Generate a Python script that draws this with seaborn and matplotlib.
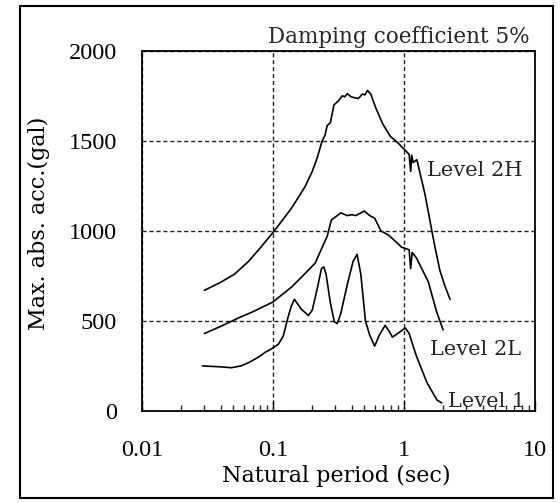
import matplotlib
matplotlib.use("Agg")
import matplotlib.pyplot as plt
import matplotlib.patches as mpatches
from matplotlib.ticker import LogLocator, NullFormatter
import seaborn as sns

# Response spectra (period in sec, acc. in gal)
period_2h = [0.030, 0.040, 0.051, 0.065, 0.080, 0.100, 0.120, 0.140, 0.176, 0.200,
             0.218, 0.238, 0.250, 0.260, 0.275, 0.293, 0.315, 0.339, 0.355, 0.371,
             0.395, 0.417, 0.450, 0.483, 0.505, 0.528, 0.560, 0.610, 0.690, 0.790,
             0.900, 0.970, 1.050, 1.100, 1.130, 1.150, 1.180, 1.260, 1.450, 1.730,
             1.890, 2.050, 2.260]
acc_2h = [670, 715, 760, 830, 905, 990, 1065, 1130, 1245, 1330,
          1405, 1500, 1530, 1585, 1600, 1700, 1720, 1750, 1745, 1762,
          1745, 1740, 1735, 1760, 1755, 1780, 1760, 1685, 1595, 1525,
          1490, 1465, 1440, 1425, 1330, 1420, 1380, 1395, 1207, 912,
          780, 700, 620]

period_2l = [0.030, 0.040, 0.054, 0.070, 0.085, 0.100, 0.140, 0.180, 0.210, 0.260,
             0.280, 0.330, 0.370, 0.400, 0.430, 0.470, 0.500, 0.550, 0.600, 0.670,
             0.770, 0.900, 0.960, 1.050, 1.100, 1.130, 1.160, 1.250, 1.540, 1.780,
             2.000]
acc_2l = [430, 470, 515, 550, 580, 605, 690, 770, 820, 970,
          1060, 1100, 1085, 1090, 1085, 1100, 1110, 1085, 1070, 1000,
          975, 930, 910, 900, 895, 790, 880, 850, 718, 553,
          450]

period_1 = [0.029, 0.040, 0.048, 0.057, 0.066, 0.078, 0.087, 0.095, 0.100, 0.110,
            0.120, 0.130, 0.138, 0.146, 0.165, 0.187, 0.200, 0.220, 0.235, 0.245,
            0.255, 0.275, 0.295, 0.310, 0.330, 0.370, 0.410, 0.440, 0.470, 0.510,
            0.550, 0.600, 0.650, 0.720, 0.770, 0.820, 0.900, 0.980, 1.030, 1.100,
            1.250, 1.500, 1.700, 1.800, 1.950]
acc_1 = [250, 245, 240, 250, 270, 300, 325, 340, 350, 370,
         415, 515, 580, 620, 565, 530, 560, 690, 790, 800,
         760, 600, 495, 485, 540, 700, 830, 870, 760, 500,
         420, 360, 420, 475, 445, 410, 430, 450, 460, 430,
         305, 160, 90, 60, 45]

x_ticks = [0.01, 0.1, 1, 10]
x_tick_labels = ["0.01", "0.1", "1", "10"]
y_ticks = [0, 500, 1000, 1500, 2000]

sns.set_theme(style="white")
plt.rcParams["font.family"] = ["Liberation Serif", "DejaVu Serif"]
wide_font = ["DejaVu Serif"]

fig = plt.figure(figsize=(5.6, 5.03), dpi=100)
ax = fig.add_axes([0.2536, 0.183, 0.701, 0.716])

for per, acc in [(period_2h, acc_2h), (period_2l, acc_2l), (period_1, acc_1)]:
    sns.lineplot(x=per, y=acc, ax=ax, color="black", linewidth=1.2,
                 sort=False, estimator=None)

ax.set_xscale("log")
ax.set_xlim(0.01, 10)
ax.set_ylim(0, 2000)
ax.set_xticks(x_ticks)
ax.set_xticklabels(x_tick_labels)
ax.set_yticks(y_ticks)
ax.xaxis.set_minor_locator(LogLocator(base=10, subs=range(2, 10)))
ax.xaxis.set_minor_formatter(NullFormatter())

ax.grid(True, which="major", color="#222222", linestyle=(0, (3, 2)), linewidth=1.0)
ax.set_axisbelow(True)
for sp in ax.spines.values():
    sp.set_color("black")
    sp.set_linewidth(1.3)

ax.tick_params(axis="x", which="major", direction="in", length=7, width=1,
               pad=21, labelsize=17.5, colors="black", bottom=True)
ax.tick_params(axis="x", which="minor", direction="in", length=4, width=1,
               bottom=True)
ax.tick_params(axis="y", which="major", length=0, pad=18, labelsize=17.5,
               colors="black")

ax.set_xlabel("Natural period (sec)", fontsize=16, color="black", family=wide_font)
ax.set_ylabel("Max. abs. acc.(gal)", fontsize=16, color="black", family=wide_font)
ax.xaxis.set_label_coords(0.494, -0.18)
ax.xaxis.label.set_va("center")
ax.yaxis.set_label_coords(-0.262, 0.52)
ax.yaxis.label.set_va("center")

# curve labels
ax.text(1.50, 1333, "Level 2H", fontsize=15, va="center", ha="left", family=wide_font)
ax.text(1.58, 340, "Level 2L", fontsize=15, va="center", ha="left", family=wide_font)
ax.text(2.18, 55, "Level 1", fontsize=15, va="center", ha="left", family=wide_font)

fig.text(0.946, 0.915, "Damping coefficient 5%", fontsize=15.5,
         ha="right", va="baseline", family=wide_font)

# outer frame around the whole figure
fig.patches.append(mpatches.Rectangle((0.036, 0.01), 0.952, 0.978,
                                      transform=fig.transFigure, fill=False,
                                      edgecolor="black", linewidth=1.5))

fig.savefig("out.png", dpi=100)
